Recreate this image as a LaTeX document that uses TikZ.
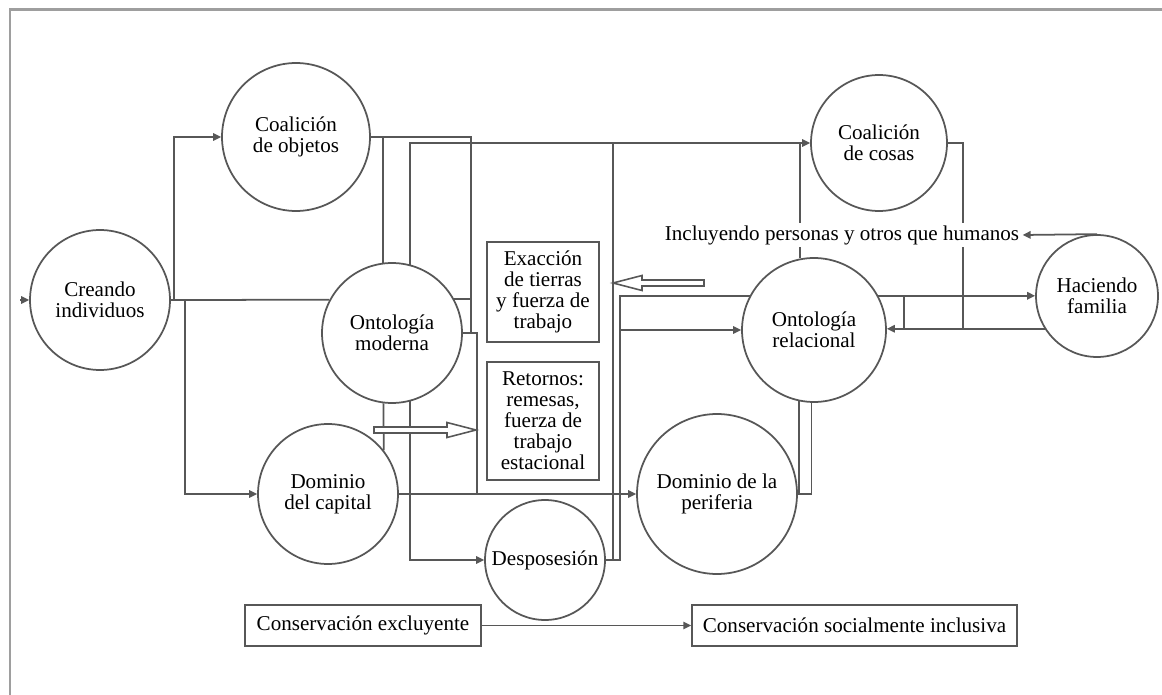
\documentclass[tikz,border=0pt]{standalone}
\usepackage{fontspec}
\setmainfont{Liberation Serif}
\usetikzlibrary{arrows.meta,calc}
\definecolor{linegray}{HTML}{575757}
\definecolor{framegray}{HTML}{9E9E9E}

\begin{document}
\begin{tikzpicture}[
    x=0.02cm, y=-0.02cm,
    color=linegray, line width=1pt,
    every node/.style={font=\fontsize{12}{12}\selectfont, text=black},
    circ/.style={draw, circle, align=center, inner sep=0pt},
    box/.style={draw, align=center, inner sep=0pt},
    arrow/.style={-{Triangle[length=4.5pt,width=4.2pt]}},
    hollow/.style={draw, fill=white, line width=0.9pt}
  ]
    \useasboundingbox (0,0) rectangle (1162,695);
    \draw[framegray, line width=1.7pt] (10,695) -- (10,10) -- (1162,10);

    % circles
    \node[circ, minimum size=2.8cm] (creando) at (100,300) {Creando\\individuos};
    \node[circ, minimum size=2.96cm] (cobj) at (296,137) {Coalición\\de objetos};
    \node[circ, minimum size=2.8cm] (omod) at (392,333) {Ontología\\moderna};
    \node[circ, minimum size=2.8cm] (dcap) at (328,494) {Dominio\\del capital};
    \node[circ, minimum size=2.4cm] (desp) at (545,560) {Desposesión};
    \node[circ, minimum size=3.2cm] (dper) at (717,494) {Dominio de la\\periferia};
    \node[circ, minimum size=2.88cm] (orel) at (814,330) {Ontología\\relacional};
    \node[circ, minimum size=2.72cm] (ccos) at (879,143) {Coalición\\de cosas};
    \node[circ, minimum size=2.44cm] (hfam) at (1097,296) {Haciendo\\familia};

    % boxes
    \node[box, minimum width=2.24cm, minimum height=2cm] (exac) at (543,292) {Exacción\\de tierras\\y fuerza de\\trabajo};
    \node[box, minimum width=2.24cm, minimum height=2.36cm] (ret) at (543,421) {Retornos:\\remesas,\\fuerza de\\trabajo\\estacional};
    \node[box, minimum width=4.72cm, minimum height=0.82cm] (cexc) at (363,625.5) {Conservación excluyente};
    \node[box, minimum width=6.5cm, minimum height=0.82cm] (cinc) at (854.5,625.5) {Conservación socialmente inclusiva};

    % left side
    \draw[arrow] ($(creando.west)+(-9,0)$) -- (creando.west);
    \draw[arrow] (creando.east) -- ++(3,0) |- (cobj.west);
    \draw (creando.east) -- (omod.152);
    \draw[arrow] ($(creando.east)+(14,0)$) |- (dcap.west);

    % around ontologia moderna
    \coordinate (m1) at ($(omod.east)+(8,0)$);
    \coordinate (m2) at ($(omod.east)+(14,0)$);
    \draw (cobj.east) -| (m1);
    \draw (omod.29) -- (omod.29 -| m1);
    \draw (omod.east) -- (m2) -- (m2 |- dcap.east);
    \draw (omod.97) -- (omod.97 |- cobj.east);
    \draw (omod.263) -- (dcap.38);
    \draw[arrow] (omod.285) |- (desp.west);
    \draw[arrow] (omod.75) |- (ccos.west);
    \draw[arrow] (dcap.east) -- (dper.west);

    % desposesion
    \coordinate (d1) at ($(desp.east)+(7,0)$);
    \coordinate (d2) at ($(desp.east)+(14,0)$);
    \draw (d1) -- (d1 |- ccos.west);
    \draw (desp.east) -- (d2) |- (orel.152);
    \draw[arrow] (d2 |- orel.west) -- (orel.west);

    % ontologia relacional
    \coordinate (r1) at ($(orel.east)+(17,0)$);
    \coordinate (r2) at ($(orel.east)+(76,0)$);
    \draw (orel.101) -- (orel.101 |- ccos.west);
    \draw (ccos.east) -| (r2 |- hfam.212);
    \draw[arrow] (orel.28) -- (orel.28 -| hfam.west);
    \draw[arrow] (hfam.212) -- (hfam.212 -| orel.east);
    \draw (r1 |- orel.28) -- (r1 |- hfam.212);
    \draw (dper.east) -| (orel.268);
    \draw (orel.258) -- (orel.258 |- dper.east);

    % hollow arrows
    \draw[hollow] (374,427) -- (447,427) -- (447,422.5) -- (476,430) -- (447,437.5) -- (447,433) -- (374,433) -- cycle;
    \draw[hollow] (704,280) -- (642,280) -- (642,275.5) -- (613,283) -- (642,290.5) -- (642,286) -- (704,286) -- cycle;

    \node[fill=white, inner sep=1.5pt] (incl) at (842,235) {Incluyendo personas y otros que humanos};
    \draw[arrow] (hfam.north) -- (incl.east);

    \draw[arrow] (cexc.east) -- (cinc.west);
\end{tikzpicture}
\end{document}
